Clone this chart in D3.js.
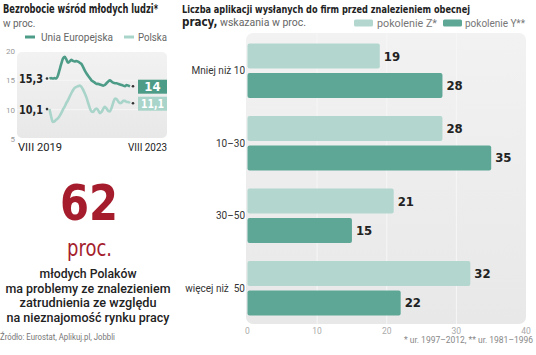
<!DOCTYPE html>
<html><head><meta charset="utf-8">
<script src="https://cdn.jsdelivr.net/npm/d3@7"></script>
<style>
html,body{margin:0;padding:0;background:#fff;}
svg{display:block;}
text{font-family:"Liberation Sans Narrow","DejaVu Sans Condensed","Roboto",sans-serif;}
.reg{font-family:"Roboto","Liberation Sans",sans-serif;}
</style></head>
<body>
<script>
// ---- DATA ----
const months = d3.range(49); // VIII 2019 .. VIII 2023 (monthly)
const euValues = [15.3,15.4,15.3,15.4,15.3,15.8,16.8,17.8,18.7,19.0,18.6,18.0,18.2,18.5,18.3,18.2,18.3,18.2,18.0,17.8,17.3,16.7,16.2,15.8,15.4,15.0,14.8,14.6,14.4,14.4,14.3,14.2,14.1,14.2,14.5,14.8,15.0,14.8,14.6,14.5,14.5,14.4,14.3,14.2,14.1,14.0,14.2,14.1,14.0];
const plValues = [10.1,8.8,7.9,8.0,8.3,8.5,8.9,9.4,10.0,10.5,11.1,11.6,12.2,12.8,13.3,13.7,13.9,14.0,14.1,13.9,13.4,12.8,12.1,11.2,10.3,9.7,9.6,10.0,10.2,9.9,9.4,9.6,10.1,10.5,10.2,9.8,9.7,10.3,11.2,11.9,11.8,11.4,11.1,11.2,11.5,11.5,11.3,11.3,11.1];
const lineTicks = [5,10,15,20];
const lineXLabels = ["VIII 2019","VIII 2023"];
const seriesNames = ["Unia Europejska","Polska"];
const startLabels = ["15,3","10,1"];
const endLabels = ["14","11,1"];

const categories = ["Mniej niż 10","10–30","30–50","więcej niż  50"];
const genZ = [19,28,21,32];
const genY = [28,35,15,22];
const barSeries = ["pokolenie Z*","pokolenie Y**"];
const barTicks = [0,10,20,30,40];

// ---- STYLE ----
const cEU = "#4d9c88", cPL = "#a9d4c9";
const cZ = "#b3d7cf", cY = "#5ea797";
const red = "#a51d2d";

const svg = d3.select("body").append("svg").attr("width",536).attr("height",355);
const defs = svg.append("defs");
const g1 = defs.append("linearGradient").attr("id","pg").attr("x1",0).attr("y1",0).attr("x2",0).attr("y2",1);
g1.append("stop").attr("offset","0%").attr("stop-color","#f2f2f2");
g1.append("stop").attr("offset","100%").attr("stop-color","#e8e8e8");

function fit(sel, w){ sel.attr("textLength", w).attr("lengthAdjust","spacingAndGlyphs"); return sel; }

// ---- LEFT: line chart ----
svg.append("text").attr("x",3).attr("y",13).attr("font-size",11.5).attr("font-weight","bold").attr("fill","#222")
  .text("Bezrobocie wśród młodych ludzi*").call(fit,155);
svg.append("text").attr("class","reg").attr("x",3).attr("y",26.5).attr("font-size",10).attr("fill","#666").text("w proc.");

// legend
const legL = [{x:25,tx:41,w:72,c:cEU},{x:124,tx:138,w:29,c:cPL}];
legL.forEach((l,i)=>{
  svg.append("line").attr("x1",l.x).attr("x2",l.x+10).attr("y1",37).attr("y2",37).attr("stroke",l.c).attr("stroke-width",3);
  svg.append("text").attr("class","reg").attr("x",l.tx).attr("y",40.5).attr("font-size",10.5).attr("fill","#666")
    .text(seriesNames[i]).call(fit,l.w);
});

const ly = d3.scaleLinear().domain([5,20]).range([139,51]);
const lx = d3.scaleLinear().domain([0,48]).range([49.5,130]);

svg.append("rect").attr("x",17).attr("y",52).attr("width",150).attr("height",86).attr("rx",5).attr("fill","url(#pg)");
svg.selectAll(".lg").data([10,15]).join("line").attr("x1",17).attr("x2",167)
  .attr("y1",d=>ly(d)).attr("y2",d=>ly(d)).attr("stroke","#f7f7f7").attr("stroke-width",0.8);
svg.selectAll(".lt").data(lineTicks).join("text").attr("class","reg").attr("x",15).attr("y",d=>ly(d)+3)
  .attr("text-anchor","end").attr("font-size",8).attr("fill","#999").text(d=>d);

const line = d3.line().x((d,i)=>lx(i)).y(d=>ly(d)).curve(d3.curveMonotoneX);
svg.append("path").datum(plValues).attr("d",line).attr("fill","none").attr("stroke",cPL).attr("stroke-width",2.6).attr("stroke-linejoin","round");
svg.append("path").datum(euValues).attr("d",line).attr("fill","none").attr("stroke",cEU).attr("stroke-width",2.6).attr("stroke-linejoin","round");

// start / end labels
[euValues,plValues].forEach((vals,i)=>{
  const y = ly(vals[0]);
  svg.append("circle").attr("cx",lx(0)-2.5).attr("cy",y).attr("r",1.3).attr("fill","#333");
  svg.append("text").attr("x",43).attr("y",y+4.5).attr("text-anchor","end").attr("font-size",13).attr("font-weight","bold").attr("fill","#222")
    .text(startLabels[i]).call(fit,24);
  const ye = ly(vals[48]);
  svg.append("circle").attr("cx",lx(48)+3).attr("cy",ye).attr("r",1.3).attr("fill","#333");
  svg.append("rect").attr("x",138).attr("y",ye-6.5).attr("width",29).attr("height",14).attr("fill",i===0?cEU:cPL);
  const t = svg.append("text").attr("x",152.5).attr("y",ye+5).attr("text-anchor","middle").attr("font-size",13).attr("font-weight","bold").attr("fill","#fff")
    .text(endLabels[i]);
  if (endLabels[i].length > 2) t.call(fit,23);
});
svg.append("text").attr("class","reg").attr("x",18).attr("y",151).attr("font-size",10.5).attr("fill","#222").text(lineXLabels[0]).call(fit,44);
svg.append("text").attr("class","reg").attr("x",167).attr("y",151).attr("text-anchor","end").attr("font-size",10.5).attr("fill","#222").text(lineXLabels[1]).call(fit,39);

// ---- LEFT: big number ----
svg.append("text").attr("x",89).attr("y",220).attr("text-anchor","middle").attr("font-size",50).attr("font-weight","bold").attr("fill",red).text("62").call(fit,58);
svg.append("text").attr("x",89.5).attr("y",256).attr("text-anchor","middle").attr("font-size",23).attr("fill",red).text("proc.").call(fit,45);
const desc = [["młodych Polaków",97],["ma problemy ze znalezieniem",165],["zatrudnienia ze względu",137],["na nieznajomość rynku pracy",163]];
desc.forEach((d,i)=>{
  svg.append("text").attr("class","reg").attr("x",88).attr("y",278+i*14.6).attr("text-anchor","middle").attr("font-size",12.5)
    .attr("font-weight","500").attr("fill","#222").text(d[0]).call(fit,d[1]);
});
svg.append("text").attr("class","reg").attr("x",0).attr("y",340).attr("font-size",8.5).attr("fill","#777")
  .text("Źródło: Eurostat, Aplikuj.pl, Jobbli").call(fit,115);

// ---- RIGHT: bar chart ----
svg.append("text").attr("x",182).attr("y",12.5).attr("font-size",11).attr("font-weight","bold").attr("fill","#222")
  .text("Liczba aplikacji wysłanych do firm przed znalezieniem obecnej").call(fit,288);
const t2 = svg.append("text").attr("x",182).attr("y",26).attr("font-size",11.5);
t2.append("tspan").attr("font-weight","bold").attr("fill","#222").text("pracy,");
t2.append("tspan").attr("class","reg").attr("font-size",10.5).attr("fill","#666").text(" wskazania w proc.");

const legR = [{x:354,tx:377,w:60,c:cZ},{x:443,tx:465,w:60,c:cY}];
legR.forEach((l,i)=>{
  svg.append("rect").attr("x",l.x).attr("y",19.5).attr("width",19).attr("height",7).attr("rx",1.5).attr("fill",l.c);
  svg.append("text").attr("class","reg").attr("x",l.tx).attr("y",27).attr("font-size",10.5).attr("fill","#777").text(barSeries[i]).call(fit,l.w);
});

const bx = d3.scaleLinear().domain([0,40]).range([247.5,526]);
const by = d3.scaleBand().domain(categories).range([34.5,324.5]).paddingInner(0.25).paddingOuter(0.125);
const bsub = d3.scaleBand().domain([0,1]).range([0,by.bandwidth()]).paddingInner(0.15);

svg.append("rect").attr("x",246).attr("y",33).attr("width",280).attr("height",291).attr("rx",7).attr("fill","url(#pg)");
svg.selectAll(".bg").data(barTicks.slice(1,4)).join("line").attr("x1",d=>bx(d)).attr("x2",d=>bx(d))
  .attr("y1",33).attr("y2",324).attr("stroke","#f6f6f6").attr("stroke-width",1);

const rows = categories.map((c,i)=>({c, vals:[genZ[i],genY[i]]}));
const grp = svg.selectAll(".grp").data(rows).join("g").attr("transform",d=>`translate(0,${by(d.c)})`);
grp.selectAll("rect").data(d=>d.vals).join("rect")
  .attr("x",bx(0)).attr("y",(d,i)=>bsub(i)).attr("width",d=>bx(d)-bx(0)).attr("height",bsub.bandwidth())
  .attr("rx",2).attr("fill",(d,i)=>i===0?cZ:cY);
grp.selectAll(".v").data(d=>d.vals).join("text")
  .attr("x",d=>bx(d)+4).attr("y",(d,i)=>bsub(i)+bsub.bandwidth()/2+4.5)
  .attr("font-size",13).attr("font-weight","bold").attr("fill","#222").text(d=>d);
grp.append("text").attr("class","reg").attr("x",245).attr("y",by.bandwidth()/2+3.5).attr("text-anchor","end")
  .attr("font-size",10).attr("fill","#333").style("white-space","pre").text(d=>d.c);

svg.selectAll(".bt").data(barTicks).join("text").attr("class","reg").attr("x",d=>bx(d)).attr("y",334)
  .attr("text-anchor","middle").attr("font-size",8.5).attr("fill","#aaa").text(d=>d);
svg.append("text").attr("class","reg").attr("x",533).attr("y",342.5).attr("text-anchor","end").attr("font-size",8.5).attr("fill","#888")
  .text("* ur. 1997–2012, ** ur. 1981–1996").call(fit,129);
</script>
</body></html>
